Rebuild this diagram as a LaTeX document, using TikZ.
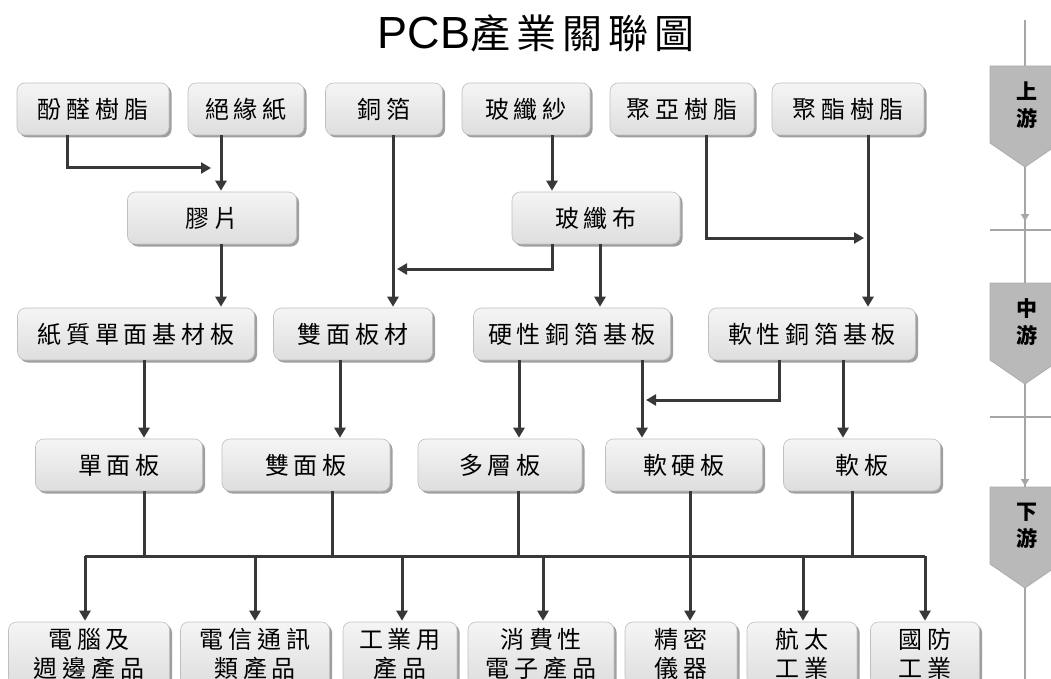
\documentclass[tikz,border=0pt]{standalone}
\usepackage{fontspec}
\usetikzlibrary{arrows.meta,shadows}
\newfontfamily\cjk[LetterSpace=20]{Noto Sans CJK TC}
\newfontfamily\cjktitle[LetterSpace=15]{Noto Sans CJK TC}
\newfontfamily\latin{Liberation Sans}

\begin{document}
\begin{tikzpicture}[x=1pt, y=-1pt,
  box/.style={rectangle, rounded corners=8pt, draw=gray!50, line width=0.6pt,
    top color=gray!8, bottom color=gray!26,
    drop shadow={shadow xshift=2.5pt, shadow yshift=-2.5pt, fill=gray!75, opacity=1},
    inner sep=0pt, minimum height=52pt, align=center,
    font=\cjk\fontsize{24}{29}\selectfont},
  arr/.style={draw=black!78, line width=3pt, -{Triangle[width=11pt,length=10pt]}, shorten >=1pt},
  ln/.style={draw=black!78, line width=3pt},
  tl/.style={draw=gray!70, line width=2.5pt},
  stage/.style={fill=gray!55, draw=gray!65, line width=0.8pt}]
  \useasboundingbox (0,0) rectangle (1051,679);
  \clip (0,0) rectangle (1051,679);

  \node (title) at (536,33) {\latin\fontsize{45}{45}\selectfont PCB\cjktitle\fontsize{40}{40}\selectfont 產業關聯圖};

  % upstream materials
  \node[box, minimum width=152pt] (phen) at (93,109) {酚醛樹脂};
  \node[box, minimum width=116pt] (insul) at (246,109) {絕緣紙};
  \node[box, minimum width=117pt] (cu) at (384,109) {銅箔};
  \node[box, minimum width=128pt] (gyarn) at (526,109) {玻纖紗};
  \node[box, minimum width=144pt] (pi) at (682,109) {聚亞樹脂};
  \node[box, minimum width=152pt] (pet) at (848,109) {聚酯樹脂};

  \node[box, minimum width=169pt] (film) at (212,218) {膠片};
  \node[box, minimum width=168pt] (gcloth) at (596,218) {玻纖布};

  % midstream
  \node[box, minimum width=237pt] (paper) at (136,334) {紙質單面基材板};
  \node[box, minimum width=159pt] (dmat) at (353,334) {雙面板材};
  \node[box, minimum width=197pt] (rigid) at (572,334) {硬性銅箔基板};
  \node[box, minimum width=207pt] (flex) at (812,334) {軟性銅箔基板};

  % boards
  \node[box, minimum width=167pt] (ss) at (119,465) {單面板};
  \node[box, minimum width=168pt] (ds) at (306,465) {雙面板};
  \node[box, minimum width=164pt] (ml) at (500,465) {多層板};
  \node[box, minimum width=157pt] (rf) at (684,465) {軟硬板};
  \node[box, minimum width=157pt] (fx) at (862,465) {軟板};

  % downstream uses
  \node[box, minimum width=161pt, minimum height=64pt] (pc) at (89,654) {電腦及\\週邊產品};
  \node[box, minimum width=149pt, minimum height=64pt] (tel) at (255,654) {電信通訊\\類產品};
  \node[box, minimum width=114pt, minimum height=64pt] (ind) at (400,654) {工業用\\產品};
  \node[box, minimum width=146pt, minimum height=64pt] (cons) at (541,654) {消費性\\電子產品};
  \node[box, minimum width=112pt, minimum height=64pt] (prec) at (681,654) {精密\\儀器};
  \node[box, minimum width=110pt, minimum height=64pt] (aero) at (802,654) {航太\\工業};
  \node[box, minimum width=109pt, minimum height=64pt] (def) at (925,654) {國防\\工業};

  \coordinate (j1) at (212,168);
  \coordinate (j2) at (396,269);
  \coordinate (j3) at (865,238);
  \coordinate (j4) at (645,400);
  \coordinate (bl) at (85,556);
  \coordinate (br) at (925,556);

  \draw[arr] (phen.south -| 67,0) |- (j1);
  \draw[arr] (insul.south -| 221,0) -- (film.north -| 221,0);
  \draw[arr] (film.south -| 221,0) -- (paper.north -| 221,0);
  \draw[arr] (cu.south -| 393,0) -- (dmat.north -| 393,0);
  \draw[arr] (gyarn.south -| 552,0) -- (gcloth.north -| 552,0);
  \draw[arr] (gcloth.south -| 552,0) |- (j2);
  \draw[arr] (gcloth.south -| 600,0) -- (rigid.north -| 600,0);
  \draw[arr] (pi.south -| 706,0) |- (j3);
  \draw[arr] (pet.south -| 868,0) -- (flex.north -| 868,0);

  \draw[arr] (paper.south -| 144,0) -- (ss.north -| 144,0);
  \draw[arr] (dmat.south -| 340,0) -- (ds.north -| 340,0);
  \draw[arr] (rigid.south -| 519,0) -- (ml.north -| 519,0);
  \draw[arr] (rigid.south -| 642,0) -- (rf.north -| 642,0);
  \draw[arr] (flex.south -| 779,0) |- (j4);
  \draw[arr] (flex.south -| 843,0) -- (fx.north -| 843,0);

  \draw[ln] (bl) -- (br);
  \draw[ln] (ss.south -| 144,0) -- (bl -| 144,0);
  \draw[ln] (ds.south -| 332,0) -- (bl -| 332,0);
  \draw[ln] (ml.south -| 518,0) -- (bl -| 518,0);
  \draw[ln] (rf.south -| 690,0) -- (bl -| 690,0);
  \draw[ln] (fx.south -| 852,0) -- (bl -| 852,0);

  \draw[arr] (bl) -- (pc.north -| bl);
  \draw[arr] (bl -| 255,0) -- (tel.north -| 255,0);
  \draw[arr] (bl -| 402,0) -- (ind.north -| 402,0);
  \draw[arr] (bl -| 543,0) -- (cons.north -| 543,0);
  \draw[arr] (bl -| 690,0) -- (prec.north -| 690,0);
  \draw[arr] (bl -| 803,0) -- (aero.north -| 803,0);
  \draw[arr] (br) -- (def.north -| br);

  % stage bar
  \draw[tl] (1025,20) -- (1025,690);
  \draw[tl] (990,230) -- (1060,230);
  \draw[tl] (990,417) -- (1060,417);
  \draw[tl, -{Triangle[width=8pt,length=7pt]}] (1025,167) -- (1025,221);
  \draw[tl, -{Triangle[width=8pt,length=7pt]}] (1025,417) -- (1025,486);
  \foreach \t/\s in {66/上, 283/中, 487/下} {
    \filldraw[stage] (990,\t) -- (1060,\t) -- (1060,\t+77) -- (1025,\t+101) -- (990,\t+77) -- cycle;
    \node[font=\cjk\bfseries\fontsize{21}{27}\selectfont, align=center] at (1027,\t+39) {\s\\游};
  }
\end{tikzpicture}
\end{document}
